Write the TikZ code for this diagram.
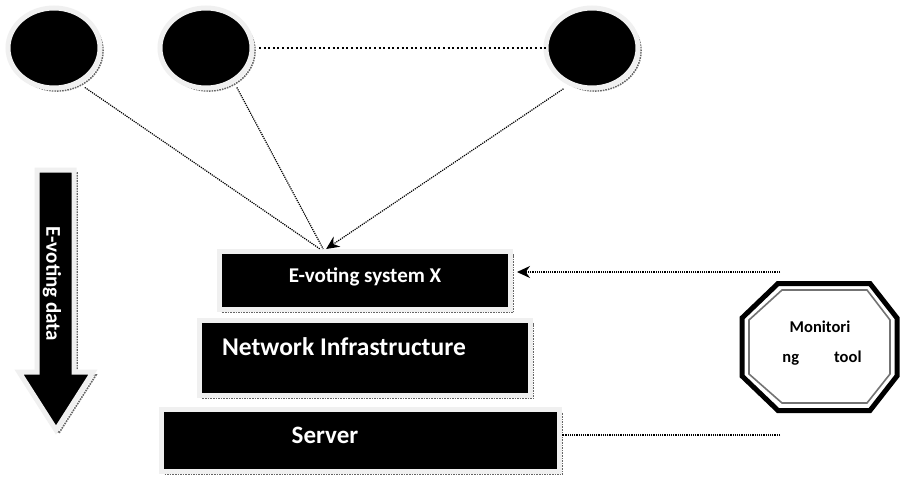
\documentclass[tikz,border=0pt]{standalone}
\usepackage{fontspec}
\setmainfont{Carlito}
\usetikzlibrary{shapes.geometric,arrows.meta,calc}
\tikzset{
  x=1pt,y=-1pt,
  softedge/.style={draw=black!6,line width=5pt,fill=black,
    preaction={draw=black!60,densely dotted,line width=1.6pt,transform canvas={xshift=3pt,yshift=-3pt}}},
  disc/.style={ellipse,softedge,minimum width=92pt,minimum height=80pt,inner sep=0pt,outer sep=8pt},
  layer/.style={rectangle,softedge,inner sep=0pt,outer sep=2.5pt},
  lbl/.style={text=white,inner sep=0pt},
  link/.style={draw=black,line width=1.2pt,densely dotted},
  peer/.style={draw=black,line width=2.2pt,dash pattern=on 2pt off 2.6pt,shorten >=-8pt,shorten <=-1pt},
  head/.style={-{Stealth[length=13pt,width=12pt]}}
}
\begin{document}
\begin{tikzpicture}
\useasboundingbox (0,0) rectangle (900,477);
\fill[white] (0,0) rectangle (900,477);
% discs
\node[disc] (c1) at (54,48) {};
\node[disc] (c2) at (206,48) {};
\node[disc] (c3) at (592,48) {};
% layers
\node[layer,minimum width=291pt,minimum height=58pt] (ev) at (365,280.5) {};
\node[layer,minimum width=331pt,minimum height=75pt] (ni) at (365,358) {};
\node[layer,minimum width=398pt,minimum height=62pt] (sv) at (360.5,440.5) {};
\node[lbl,font=\bfseries\fontsize{21}{25}\selectfont] (evt) at (365,277) {E-voting system X};
\node[lbl,font=\bfseries\fontsize{25.5}{30}\selectfont] (nit) at (344,347) {Network Infrastructure};
\node[lbl,font=\bfseries\fontsize{25}{30}\selectfont] (svt) at (325,435) {Server};
% data arrow
\path[softedge] (37,170) -- (74,170) -- (74,372) -- (93,372) -- (56,430) -- (19,372) -- (37,372) -- cycle;
\node[lbl,rotate=-90,font=\bfseries\fontsize{21}{24}\selectfont] (dat) at (52,284) {E-voting data};
% monitoring tool
\draw[line width=5pt,line join=miter,fill=white] (778,283.5) -- (870,283.5) -- (897,318) -- (897,376) -- (870,410.5) -- (778,410.5) -- (742,376) -- (742,318) -- cycle;
\draw[line width=1.6pt,draw=black!55] (782,290) -- (867,290) -- (890,320) -- (890,374) -- (867,403) -- (782,403) -- (749,374) -- (749,320) -- cycle;
\node[font=\bfseries\fontsize{16.5}{20}\selectfont,inner sep=0pt] (m1) at (820,327) {Monitori};
\node[font=\bfseries\fontsize{16.5}{20}\selectfont,inner sep=0pt] (m2) at (822,358) {ng\hspace{35pt}tool};
% connectors
\coordinate (mt) at (780,272);
\coordinate (st) at (780,435);
\draw[peer] (c2) -- (c3);
\draw[link] (c1.-52) -- (ev.145);
\draw[link] (c2.-52) -- (ev.143);
\draw[link,head] (c3.235) -- (ev.141);
\draw[link,head] (mt) -- ($(mt -| ev.east)+(4,0)$);
\draw[link] (st) -- (st -| sv.east);
\end{tikzpicture}
\end{document}
